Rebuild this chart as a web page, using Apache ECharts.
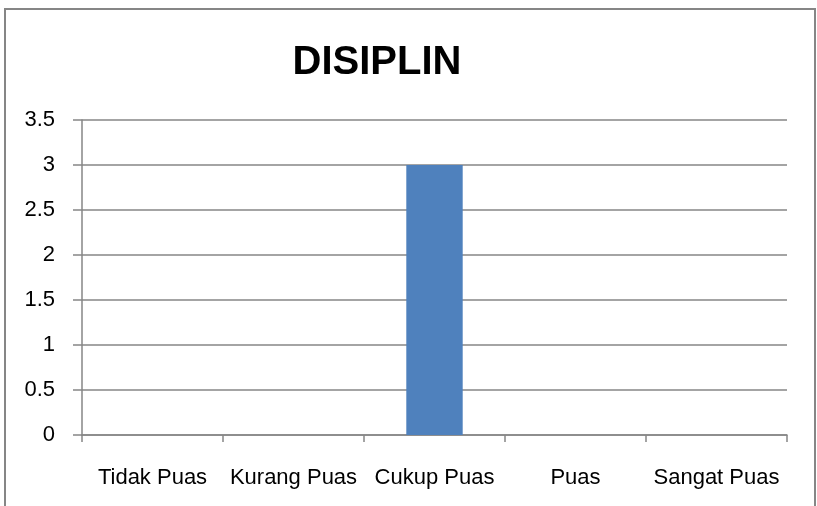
<!DOCTYPE html>
<html>
<head>
<meta charset="utf-8">
<title>DISIPLIN</title>
<script src="https://cdn.jsdelivr.net/npm/echarts@6/dist/echarts.min.js"></script>
<style>
  html, body { margin: 0; padding: 0; background: #fff; }
  #chart { width: 817px; height: 506px; }
</style>
</head>
<body>
<div id="chart"></div>
<script>
// data
var categories = ["Tidak Puas", "Kurang Puas", "Cukup Puas", "Puas", "Sangat Puas"];
var values = [0, 0, 3, 0, 0];
var yTicks = [0, 0.5, 1, 1.5, 2, 2.5, 3, 3.5];

var myChart = echarts.init(document.getElementById("chart"));
var gray = "#868686";
var font = "'Liberation Sans', Arial, sans-serif";

var option = {
  animation: false,
  title: {
    text: "DISIPLIN",
    left: 372,
    top: 38,
    textAlign: "center",
    textStyle: {
      fontFamily: font,
      fontWeight: "bold",
      fontSize: 40,
      color: "#000"
    }
  },
  // chart frame (bottom edge falls outside the picture)
  graphic: [
    {
      type: "rect",
      shape: { x: 5, y: 9, width: 810, height: 520 },
      style: { fill: null, stroke: gray, lineWidth: 2 },
      silent: true
    }
  ],
  grid: {
    left: 82,
    right: 30,
    top: 120,
    bottom: 71
  },
  xAxis: {
    type: "category",
    data: categories,
    axisLine: { lineStyle: { color: gray, width: 1.5 } },
    axisTick: { show: true, interval: 0, length: 7, lineStyle: { color: gray, width: 1.5 } },
    axisLabel: {
      interval: 0,
      hideOverlap: false,
      margin: 32,
      fontFamily: font,
      fontSize: 22,
      color: "#000"
    }
  },
  yAxis: {
    type: "value",
    min: yTicks[0],
    max: yTicks[yTicks.length - 1],
    interval: 0.5,
    axisLine: { show: true, lineStyle: { color: gray, width: 1.5 } },
    axisTick: { show: true, length: 9, lineStyle: { color: gray, width: 1.5 } },
    splitLine: { lineStyle: { color: gray, width: 1.5 } },
    axisLabel: {
      margin: 27,
      fontFamily: font,
      fontSize: 22,
      color: "#000"
    }
  },
  series: [
    {
      type: "bar",
      data: values,
      barWidth: "40%",
      itemStyle: { color: "#4F81BD" }
    }
  ]
};
myChart.setOption(option);
</script>
</body>
</html>
